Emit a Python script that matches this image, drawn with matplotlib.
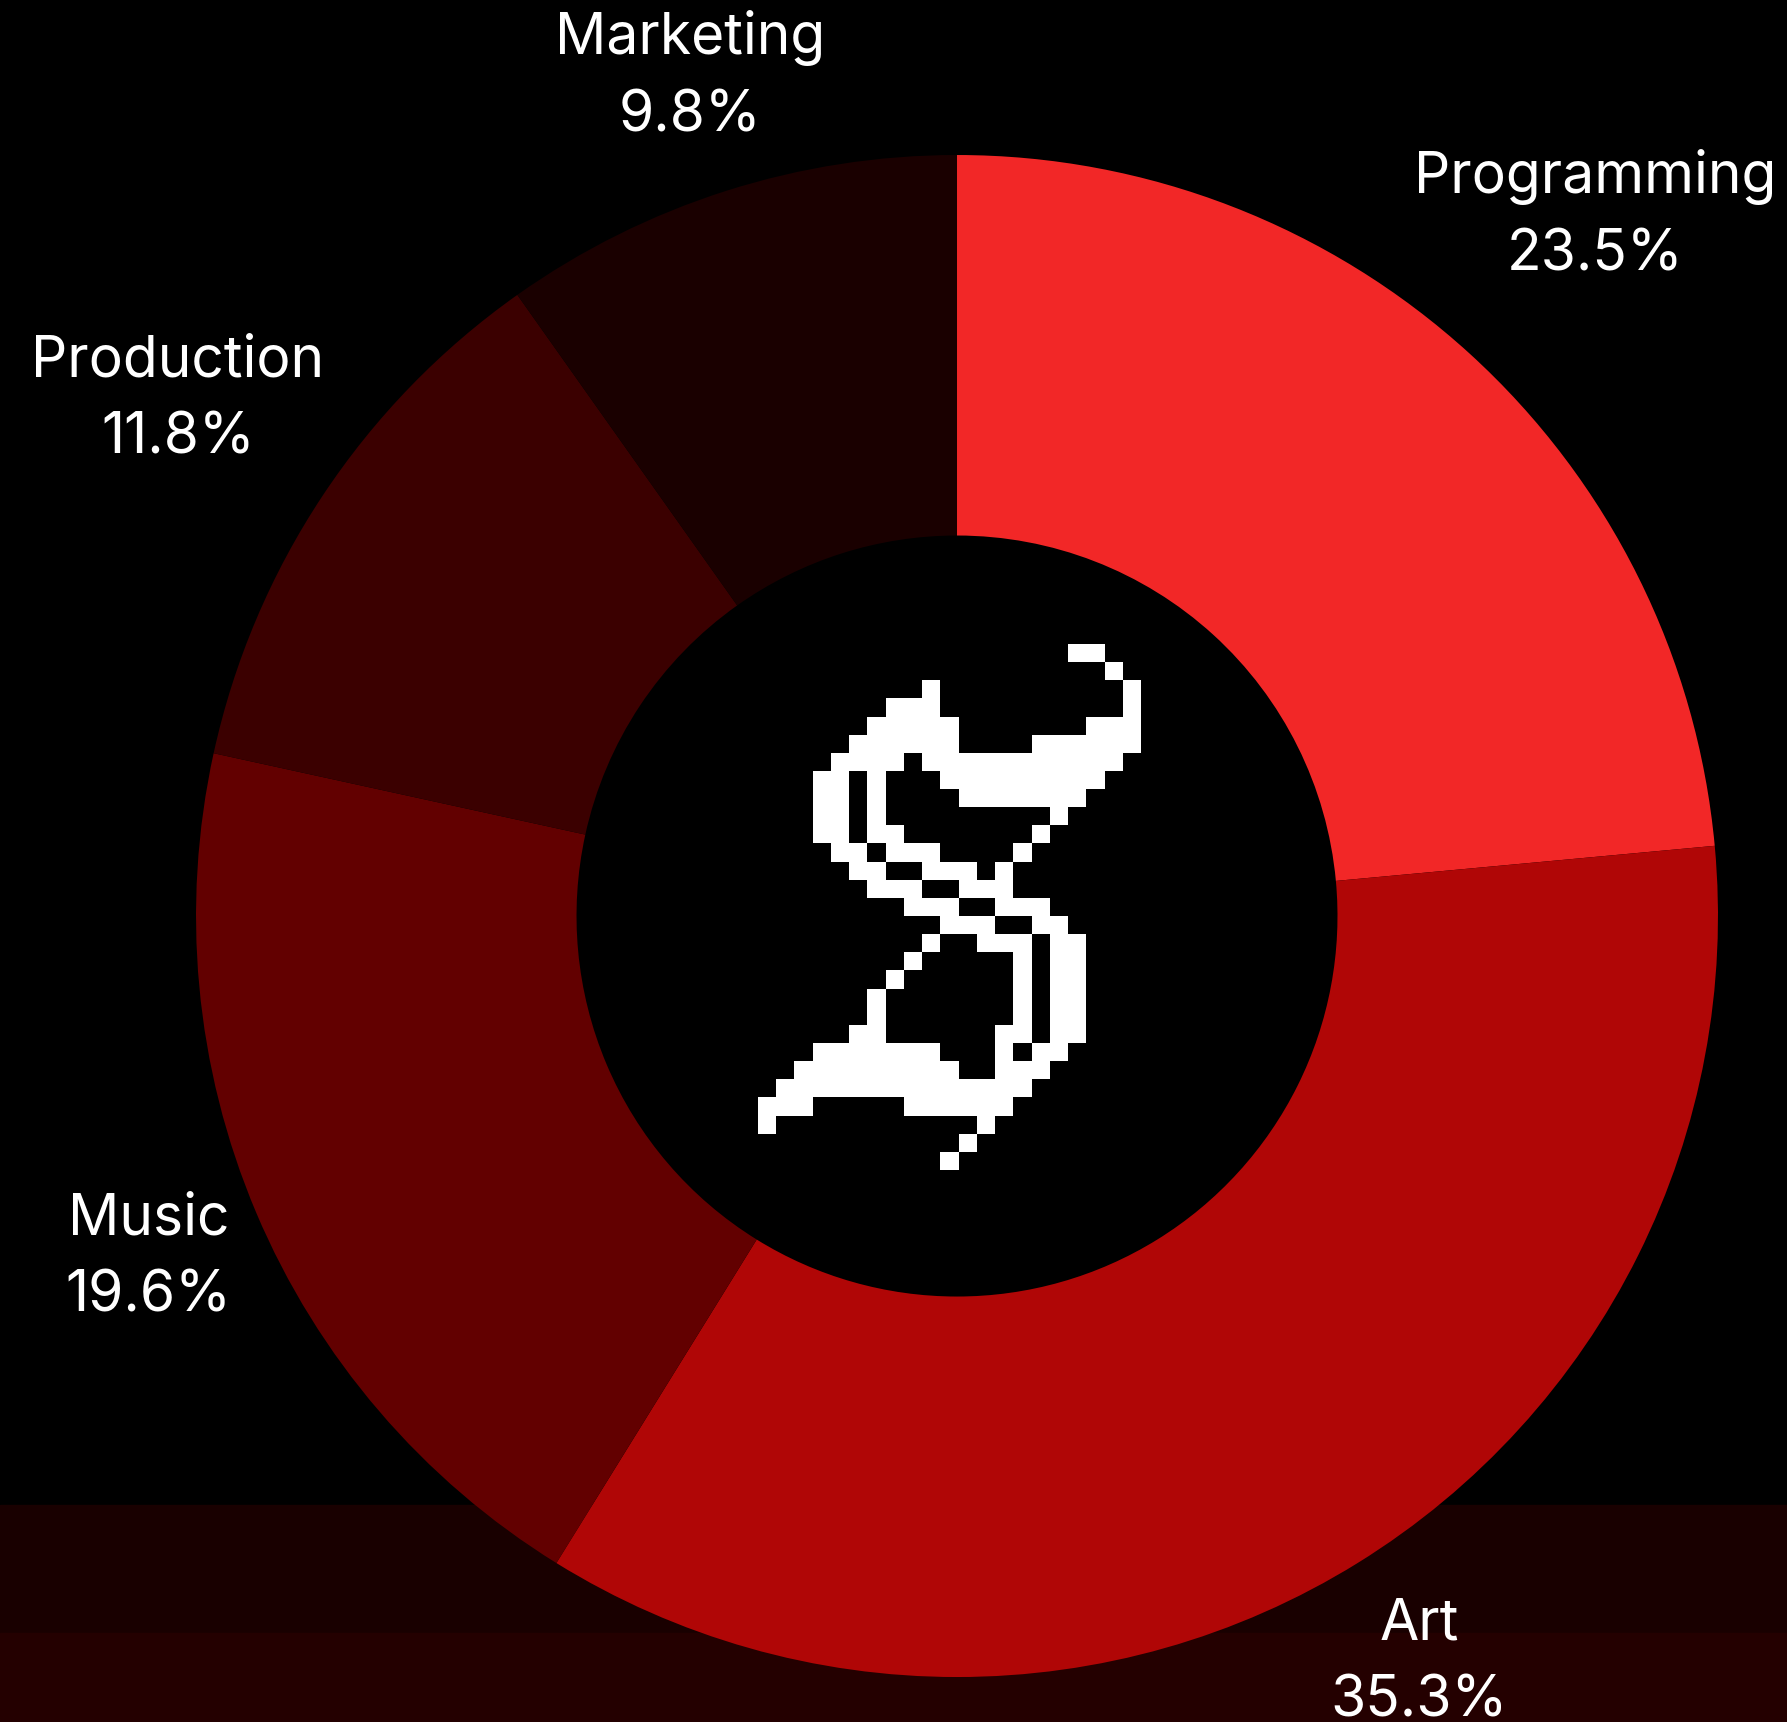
import numpy as np
import matplotlib.pyplot as plt

# Podily (pocty) jednotlivych oboru
obory = ['Programming', 'Art', 'Music', 'Production', 'Marketing']
pocty = [12, 18, 10, 6, 5]
barvy = ['#F22727', '#B00606', '#620000', '#3B0000', '#1A0000']

# Pixelove logo uprostred
logo = [
    ".................XX..",
    "...................X.",
    ".........X..........X",
    ".......XXX..........X",
    "......XXXXX.......XXX",
    ".....XXXXXX....XXXXXX",
    "....XXXX.XXXXXXXXXXX.",
    "...XX.X...XXXXXXXXX..",
    "...XX.X....XXXXXXX...",
    "...XX.X.........X....",
    "...XX.XX.......X.....",
    "....XX.XXX....X......",
    ".....XX..XXX.X.......",
    "......XXX..XXX.......",
    "........XXX..XXX.....",
    "..........XXX..XX....",
    ".........X..XXX.XX...",
    "........X.....X.XX...",
    ".......X......X.XX...",
    "......X.......X.XX...",
    "......X.......X.XX...",
    ".....XX......XX.XX...",
    "...XXXXXXX...X.XX....",
    "..XXXXXXXXX..XXX.....",
    ".XXXXXXXXXXXXXX......",
    "XXX.....XXXXXX.......",
    "X...........X........",
    "...........X.........",
    "..........X..........",
]

plt.rcParams['font.family'] = ['Inter', 'DejaVu Sans']

fig = plt.figure(figsize=(17.87, 17.22), dpi=100, facecolor='black')
ax = fig.add_axes([0, 0, 1, 1])
ax.set_facecolor('black')

# pruhy dole
ax.axhspan(-0.942, -0.774, color='#190000', zorder=0)
ax.axhspan(-1.2, -0.942, color='#240000', zorder=0)

wedges, _ = ax.pie(pocty, colors=barvy, startangle=90, counterclock=False,
                   radius=1, wedgeprops=dict(width=0.5, linewidth=0), frame=True)
for w in wedges:
    w.set_zorder(2)

ax.set_xlim(-1.2576, 1.0907)
ax.set_ylim(-1.0591, 1.2037)
ax.set_aspect('auto')
ax.axis('off')

# logo
sirka = max(len(r) for r in logo)
obr = np.zeros((len(logo), sirka, 4))
for i, r in enumerate(logo):
    for j, c in enumerate(r):
        if c == 'X':
            obr[i, j] = [1, 1, 1, 1]
ax.imshow(obr, extent=(-0.2615, 0.2418, -0.334, 0.357), interpolation='nearest',
          zorder=3, aspect='auto')

# popisky
celkem = sum(pocty)
fig.canvas.draw()
rend = fig.canvas.get_renderer()
px = 761.0
start = 90.0
for ob, n in zip(obory, pocty):
    uhel = start - n / celkem * 360 / 2
    start -= n / celkem * 360
    t = ax.text(0, 0, f'{ob}\n{n / celkem * 100:.1f}%', color='white', fontsize=41,
                ha='center', va='center', linespacing=1.55, zorder=4)
    bb = t.get_window_extent(renderer=rend)
    hw = bb.width / 2 / px
    hh = bb.height / 2 / px
    c, s = np.cos(np.radians(uhel)), np.sin(np.radians(uhel))
    d = 1.02 + hw * abs(c) + hh * abs(s)
    t.set_position((d * c, d * s))

plt.savefig('out.png', dpi=100, facecolor='black')
